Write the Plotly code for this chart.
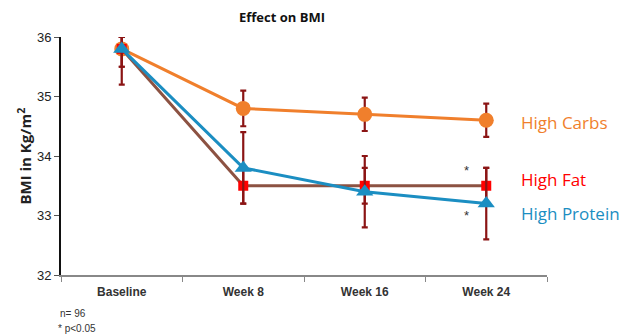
import plotly.graph_objects as go

categories = ["Baseline", "Week 8", "Week 16", "Week 24"]
carbs = [35.8, 34.8, 34.7, 34.6]
carbs_err_plus = [0.2, 0.3, 0.28, 0.28]
carbs_err_minus = [0.3, 0.3, 0.28, 0.28]
fat = [35.8, 33.5, 33.5, 33.5]
fat_err_plus = [0.2, 0.3, 0.3, 0.3]
fat_err_minus = [0.3, 0.3, 0.3, 0.3]
protein = [35.8, 33.8, 33.4, 33.2]
protein_err_plus = [0.2, 0.6, 0.6, 0.6]
protein_err_minus = [0.6, 0.6, 0.6, 0.6]
y_ticks = [32, 33, 34, 35, 36]

ERR = "#8B1414"
ORANGE = "#F07F2C"
BROWN = "#8C5242"
RED = "#FF0000"
BLUE = "#1B8EC2"

fig = go.Figure()

def add(y, plus, minus, linecolor, mcolor, symbol, size):
    fig.add_trace(go.Scatter(
        x=categories, y=y, mode="lines+markers",
        line=dict(color=linecolor, width=3),
        marker=dict(color=mcolor, symbol=symbol, size=size, line=dict(width=0)),
        error_y=dict(type="data", array=plus, arrayminus=minus, symmetric=False,
                     color=ERR, thickness=2.2, width=3),
        cliponaxis=False, showlegend=False,
    ))

add(carbs, carbs_err_plus, carbs_err_minus, ORANGE, ORANGE, "circle", 15)
add(fat, fat_err_plus, fat_err_minus, BROWN, RED, "square", 10)
add(protein, protein_err_plus, protein_err_minus, BLUE, BLUE, "triangle-up", 15)

NARROW = "Liberation Sans Narrow, Liberation Sans"
ann = []
ann.append(dict(text="<b>Effect on BMI</b>", x=0.455, y=1.084, xref="paper", yref="paper",
                xanchor="center", yanchor="middle",
                showarrow=False, font=dict(family="Open Sans", size=13, color="#111")))
ann.append(dict(text="<b>BMI in Kg/m<sup>2</sup></b>", x=-0.077, y=0.5, xref="paper", yref="paper",
                xanchor="center", yanchor="middle",
                textangle=-90, showarrow=False, font=dict(family="Open Sans", size=15, color="#222")))
labels = [("High Carbs", 34.57, ORANGE), ("High Fat", 33.61, RED), ("High Protein", 33.04, BLUE)]
for t, yv, c in labels:
    ann.append(dict(text=t, x=0.942, y=yv, xref="paper", yref="y", xanchor="left",
                    showarrow=False, font=dict(family="Open Sans", size=17, color=c)))
for yv in [33.75, 33.0]:
    ann.append(dict(text="*", x=2.84, y=yv, xref="x", yref="y", showarrow=False,
                    font=dict(family="Liberation Sans", size=13, color="#333")))
ann.append(dict(text="n= 96", x=-0.006, y=-0.16, xref="paper", yref="paper", xanchor="left",
                yanchor="middle", showarrow=False, font=dict(family=NARROW, size=10, color="#333")))
ann.append(dict(text="* p<0.05", x=-0.01, y=-0.223, xref="paper", yref="paper", xanchor="left",
                yanchor="middle", showarrow=False, font=dict(family=NARROW, size=10, color="#333")))

fig.update_layout(
    width=625, height=327,
    margin=dict(l=53, r=86, t=29, b=60, autoexpand=False),
    paper_bgcolor="white", plot_bgcolor="white",
    annotations=ann,
    xaxis=dict(type="category", range=[-0.5, 3.5], showline=True, linecolor="#888", linewidth=1.5,
               ticks="outside", ticklen=5, tickcolor="#888", tickson="boundaries",
               showgrid=False, zeroline=False, automargin=False, ticklabelstandoff=5,
               tickfont=dict(family=NARROW, size=12, color="#333"),
               tickprefix="<b>", ticksuffix="</b>"),
    yaxis=dict(range=[32, 36], tickvals=y_ticks, showline=True, linecolor="#111", linewidth=2,
               ticks="outside", ticklen=5, tickcolor="#555", showgrid=False, zeroline=False,
               automargin=False,
               tickfont=dict(family=NARROW, size=13, color="#222")),
)

fig.write_html("out.html")
